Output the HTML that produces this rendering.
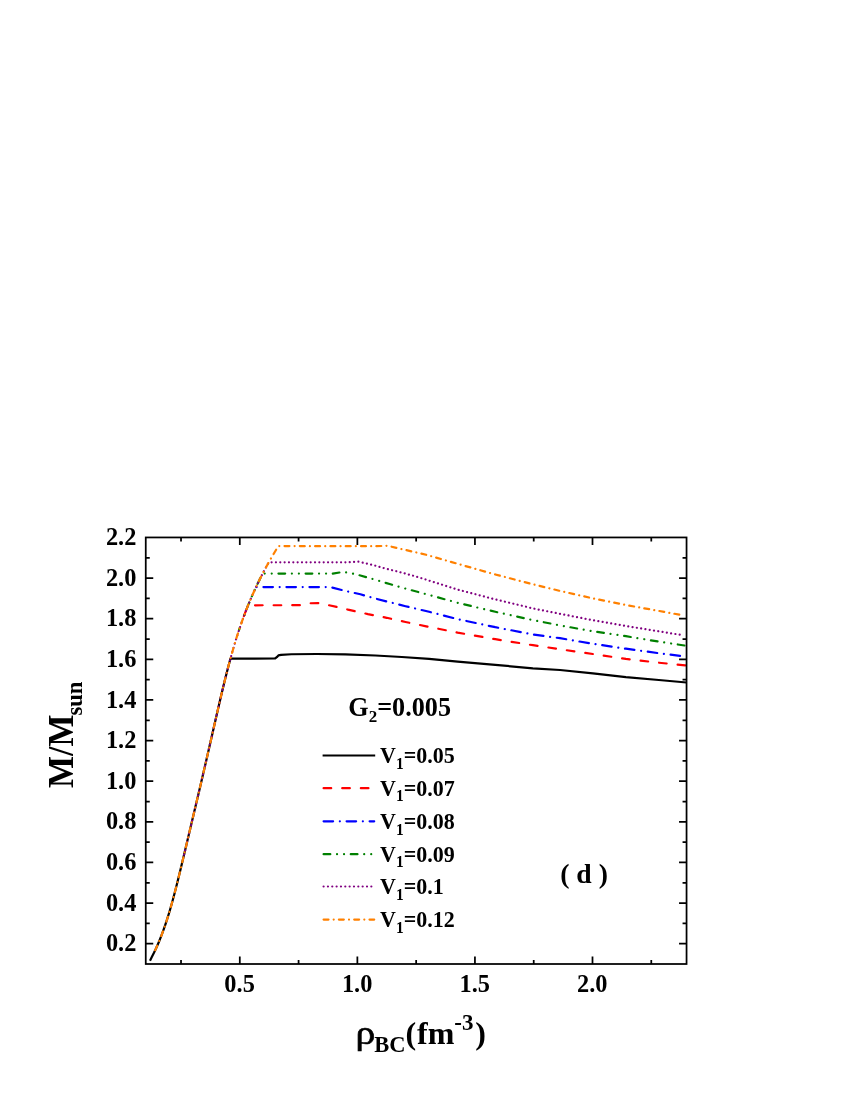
<!DOCTYPE html>
<html><head><meta charset="utf-8"><title>chart</title>
<style>
html,body{margin:0;padding:0;background:#fff;}
body{width:850px;height:1100px;position:relative;overflow:hidden;}
#w{position:absolute;left:0;top:0;width:850px;height:1100px;will-change:transform;}
</style></head><body><div id="w">
<svg width="850" height="1100" viewBox="0 0 850 1100" style="position:absolute;left:0;top:0">
<defs><clipPath id="c"><rect x="145.75" y="537.45" width="540.80" height="426.55"/></clipPath></defs>
<g clip-path="url(#c)" fill="none" stroke-linejoin="round" stroke-linecap="round" stroke-width="2.2">
<path d="M150.00 960.70 L151.93 956.70 L153.97 952.70 L155.88 948.70 L157.68 944.70 L159.38 940.70 L160.99 936.70 L162.52 932.70 L163.96 928.70 L165.35 924.70 L166.67 920.70 L167.94 916.70 L169.16 912.70 L170.33 908.70 L171.47 904.70 L172.58 900.70 L173.66 896.70 L174.71 892.70 L175.75 888.70 L176.76 884.70 L177.76 880.70 L178.75 876.70 L179.73 872.70 L180.70 868.70 L181.66 864.70 L182.62 860.70 L183.58 856.70 L184.53 852.70 L185.48 848.70 L186.42 844.70 L187.37 840.70 L188.32 836.70 L189.27 832.70 L190.21 828.70 L191.16 824.70 L192.11 820.70 L193.06 816.70 L194.00 812.70 L194.95 808.70 L195.90 804.70 L196.84 800.70 L197.79 796.70 L198.73 792.70 L199.68 788.70 L200.62 784.70 L201.55 780.70 L202.49 776.70 L203.42 772.70 L204.35 768.70 L205.28 764.70 L206.21 760.70 L207.13 756.70 L208.05 752.70 L208.97 748.70 L209.88 744.70 L210.80 740.70 L211.71 736.70 L212.62 732.70 L213.53 728.70 L214.44 724.70 L215.35 720.70 L216.26 716.70 L217.18 712.70 L218.10 708.70 L219.02 704.70 L219.95 700.70 L220.88 696.70 L221.83 692.70 L222.78 688.70 L223.75 684.70 L224.73 680.70 L225.72 676.70 L226.73 672.70 L227.76 668.70 L228.81 664.70 L229.88 660.70 L230.46 658.60 L275.00 658.50 L276.80 657.20 L278.40 655.40 L281.00 654.90 L291.40 654.25 L317.00 654.00 L345.30 654.30 L375.40 655.50 L401.80 657.00 L429.10 658.90 L457.60 661.70 L495.30 664.90 L532.90 668.30 L560.00 670.00 L592.90 673.40 L625.90 677.10 L658.80 680.00 L686.50 682.50" stroke="#000000" stroke-linecap="butt"/>
<path d="M243.24 618.00 L243.71 616.70 L245.21 612.70 L246.75 608.70 L248.11 605.30 L301.00 605.20 L309.50 603.30 L318.00 603.10 L327.00 604.80 L336.50 606.90 L349.10 609.90 L367.90 614.10 L386.70 617.80 L405.50 622.00 L426.20 626.30 L457.60 632.60 L495.30 639.20 L532.90 645.20 L565.80 650.10 L592.90 654.00 L625.90 658.90 L658.80 662.70 L686.50 665.50" stroke="#ff0000" stroke-dasharray="7.62 11.00" stroke-dashoffset="16.73"/>
<path d="M254.23 591.00 L255.27 588.70 L256.02 587.10 L330.50 587.10 L345.30 590.90 L360.40 594.30 L375.40 598.60 L390.50 602.40 L405.50 606.20 L429.10 611.80 L457.60 619.10 L495.30 627.20 L532.90 634.40 L560.00 638.20 L592.90 643.80 L625.90 648.70 L658.80 653.20 L681.80 656.02" stroke="#0000ff" stroke-dasharray="9.52 6.73 0.02 6.74" stroke-dashoffset="11.32"/>
<path d="M239.06 630.00 L239.49 628.70 L240.85 624.70 L242.26 620.70 L243.71 616.70 L245.21 612.70 L246.75 608.70 L248.35 604.70 L250.00 600.70 L251.70 596.70 L253.46 592.70 L255.27 588.70 L257.15 584.70 L259.08 580.70 L261.07 576.70 L262.67 573.60 L332.50 573.60 L340.70 572.30 L346.30 572.40 L353.10 573.70 L360.40 575.50 L375.40 579.80 L390.50 584.30 L405.50 588.60 L424.40 593.70 L457.60 602.80 L495.30 611.80 L532.90 620.10 L563.30 626.00 L592.90 631.30 L625.90 636.20 L658.80 641.60 L686.50 645.80" stroke="#008000" stroke-dasharray="6.72 6.70 0.02 7.00 0.02 6.71" stroke-dashoffset="4.53"/>
<path d="M183.51 857.00 L183.58 856.70 L184.53 852.70 L185.48 848.70 L186.42 844.70 L187.37 840.70 L188.32 836.70 L189.27 832.70 L190.21 828.70 L191.16 824.70 L192.11 820.70 L193.06 816.70 L194.00 812.70 L194.95 808.70 L195.90 804.70 L196.84 800.70 L197.79 796.70 L198.73 792.70 L199.68 788.70 L200.62 784.70 L201.55 780.70 L202.49 776.70 L203.42 772.70 L204.35 768.70 L205.28 764.70 L206.21 760.70 L207.13 756.70 L208.05 752.70 L208.97 748.70 L209.88 744.70 L210.80 740.70 L211.71 736.70 L212.62 732.70 L213.53 728.70 L214.44 724.70 L215.35 720.70 L216.26 716.70 L217.18 712.70 L218.10 708.70 L219.02 704.70 L219.95 700.70 L220.88 696.70 L221.83 692.70 L222.78 688.70 L223.75 684.70 L224.73 680.70 L225.72 676.70 L226.73 672.70 L227.76 668.70 L228.81 664.70 L229.88 660.70 L230.98 656.70 L232.10 652.70 L233.25 648.70 L234.43 644.70 L235.64 640.70 L236.89 636.70 L238.17 632.70 L239.49 628.70 L240.85 624.70 L242.26 620.70 L243.71 616.70 L245.21 612.70 L246.75 608.70 L248.35 604.70 L250.00 600.70 L251.70 596.70 L253.46 592.70 L255.27 588.70 L257.15 584.70 L259.08 580.70 L261.07 576.70 L263.13 572.70 L265.25 568.70 L267.42 564.70 L268.74 562.35 L345.00 562.30 L358.50 561.70 L371.60 564.70 L386.70 568.90 L401.80 572.60 L416.80 576.80 L429.10 580.60 L457.60 589.60 L495.30 599.40 L532.90 608.40 L560.00 613.80 L592.90 620.20 L625.90 626.00 L658.80 631.30 L681.80 635.04" stroke="#800080" stroke-dasharray="0.02 4.32" stroke-dashoffset="1.87"/>
<path d="M154.73 951.10 L155.88 948.70 L157.68 944.70 L159.38 940.70 L160.99 936.70 L162.52 932.70 L163.96 928.70 L165.35 924.70 L166.67 920.70 L167.94 916.70 L169.16 912.70 L170.33 908.70 L171.47 904.70 L172.58 900.70 L173.66 896.70 L174.71 892.70 L175.75 888.70 L176.76 884.70 L177.76 880.70 L178.75 876.70 L179.73 872.70 L180.70 868.70 L181.66 864.70 L182.62 860.70 L183.58 856.70 L184.53 852.70 L185.48 848.70 L186.42 844.70 L187.37 840.70 L188.32 836.70 L189.27 832.70 L190.21 828.70 L191.16 824.70 L192.11 820.70 L193.06 816.70 L194.00 812.70 L194.95 808.70 L195.90 804.70 L196.84 800.70 L197.79 796.70 L198.73 792.70 L199.68 788.70 L200.62 784.70 L201.55 780.70 L202.49 776.70 L203.42 772.70 L204.35 768.70 L205.28 764.70 L206.21 760.70 L207.13 756.70 L208.05 752.70 L208.97 748.70 L209.88 744.70 L210.80 740.70 L211.71 736.70 L212.62 732.70 L213.53 728.70 L214.44 724.70 L215.35 720.70 L216.26 716.70 L217.18 712.70 L218.10 708.70 L219.02 704.70 L219.95 700.70 L220.88 696.70 L221.83 692.70 L222.78 688.70 L223.75 684.70 L224.73 680.70 L225.72 676.70 L226.73 672.70 L227.76 668.70 L228.81 664.70 L229.88 660.70 L230.98 656.70 L232.10 652.70 L233.25 648.70 L234.43 644.70 L235.64 640.70 L236.89 636.70 L238.17 632.70 L239.49 628.70 L240.85 624.70 L242.26 620.70 L243.71 616.70 L245.21 612.70 L246.75 608.70 L248.35 604.70 L250.00 600.70 L251.70 596.70 L253.46 592.70 L255.27 588.70 L257.15 584.70 L259.08 580.70 L261.07 576.70 L263.13 572.70 L265.25 568.70 L267.42 564.70 L269.67 560.70 L271.97 556.70 L274.34 552.70 L276.76 548.70 L278.50 546.10" stroke="#ff8000" stroke-dasharray="4.95 5.19 0.03 5.20" stroke-dashoffset="14.38"/>
<path d="M278.50 546.10 L375.00 546.20 L387.70 545.80 L401.80 549.10 L426.20 554.80 L457.60 563.80 L495.30 574.50 L532.90 584.30 L560.00 590.90 L592.90 598.40 L625.90 605.00 L658.80 610.90 L682.60 615.28" stroke="#ff8000" stroke-dasharray="4.92 5.18 0.02 5.19" stroke-dashoffset="9.31"/>
</g>
<g stroke="#000" stroke-width="1.75" fill="none">
<rect x="145.75" y="537.45" width="540.80" height="426.55"/>
<path d="M181.02 964.00 v-4.0 M181.02 537.45 v4.0 M239.80 964.00 v-7.5 M239.80 537.45 v7.5 M298.58 964.00 v-4.0 M298.58 537.45 v4.0 M357.37 964.00 v-7.5 M357.37 537.45 v7.5 M416.15 964.00 v-4.0 M416.15 537.45 v4.0 M474.93 964.00 v-7.5 M474.93 537.45 v7.5 M533.72 964.00 v-4.0 M533.72 537.45 v4.0 M592.50 964.00 v-7.5 M592.50 537.45 v7.5 M651.28 964.00 v-4.0 M651.28 537.45 v4.0 M145.75 943.69 h7.5 M686.55 943.69 h-7.5 M145.75 923.38 h4.0 M686.55 923.38 h-4.0 M145.75 903.06 h7.5 M686.55 903.06 h-7.5 M145.75 882.75 h4.0 M686.55 882.75 h-4.0 M145.75 862.44 h7.5 M686.55 862.44 h-7.5 M145.75 842.13 h4.0 M686.55 842.13 h-4.0 M145.75 821.82 h7.5 M686.55 821.82 h-7.5 M145.75 801.50 h4.0 M686.55 801.50 h-4.0 M145.75 781.19 h7.5 M686.55 781.19 h-7.5 M145.75 760.88 h4.0 M686.55 760.88 h-4.0 M145.75 740.57 h7.5 M686.55 740.57 h-7.5 M145.75 720.26 h4.0 M686.55 720.26 h-4.0 M145.75 699.95 h7.5 M686.55 699.95 h-7.5 M145.75 679.63 h4.0 M686.55 679.63 h-4.0 M145.75 659.32 h7.5 M686.55 659.32 h-7.5 M145.75 639.01 h4.0 M686.55 639.01 h-4.0 M145.75 618.70 h7.5 M686.55 618.70 h-7.5 M145.75 598.39 h4.0 M686.55 598.39 h-4.0 M145.75 578.07 h7.5 M686.55 578.07 h-7.5 M145.75 557.76 h4.0 M686.55 557.76 h-4.0"/>
</g>
<g fill="none" stroke-width="2.2" stroke-linecap="round">
<path d="M322.6 755.5 H375.2" stroke="#000000" stroke-linecap="butt"/>
<path d="M323.59 788.2 H374.21" stroke="#ff0000" stroke-dasharray="7.62 11.00"/>
<path d="M323.59 821.3 H374.21" stroke="#0000ff" stroke-dasharray="9.52 6.73 0.02 6.74"/>
<path d="M323.59 854.2 H374.21" stroke="#008000" stroke-dasharray="6.72 6.70 0.02 7.00 0.02 6.71"/>
<path d="M323.59 886.5 H374.21" stroke="#800080" stroke-dasharray="0.02 4.32"/>
<path d="M323.59 919.6 H374.21" stroke="#ff8000" stroke-dasharray="4.92 5.18 0.02 5.19"/>
</g>
<g font-family="Liberation Serif, serif" font-weight="bold" fill="#000">
<text transform="translate(136.40,951.29) scale(1,1.015)" font-size="24.4" text-anchor="end">0.2</text>
<text transform="translate(136.40,910.66) scale(1,1.015)" font-size="24.4" text-anchor="end">0.4</text>
<text transform="translate(136.40,870.04) scale(1,1.015)" font-size="24.4" text-anchor="end">0.6</text>
<text transform="translate(136.40,829.42) scale(1,1.015)" font-size="24.4" text-anchor="end">0.8</text>
<text transform="translate(136.40,788.79) scale(1,1.015)" font-size="24.4" text-anchor="end">1.0</text>
<text transform="translate(136.40,748.17) scale(1,1.015)" font-size="24.4" text-anchor="end">1.2</text>
<text transform="translate(136.40,707.55) scale(1,1.015)" font-size="24.4" text-anchor="end">1.4</text>
<text transform="translate(136.40,666.92) scale(1,1.015)" font-size="24.4" text-anchor="end">1.6</text>
<text transform="translate(136.40,626.30) scale(1,1.015)" font-size="24.4" text-anchor="end">1.8</text>
<text transform="translate(136.40,585.67) scale(1,1.015)" font-size="24.4" text-anchor="end">2.0</text>
<text transform="translate(136.40,545.05) scale(1,1.015)" font-size="24.4" text-anchor="end">2.2</text>
<text transform="translate(239.60,992.00) scale(1,1.015)" font-size="24.4" text-anchor="middle">0.5</text>
<text transform="translate(357.17,992.00) scale(1,1.015)" font-size="24.4" text-anchor="middle">1.0</text>
<text transform="translate(474.73,992.00) scale(1,1.015)" font-size="24.4" text-anchor="middle">1.5</text>
<text transform="translate(592.30,992.00) scale(1,1.015)" font-size="24.4" text-anchor="middle">2.0</text>
<text transform="translate(380.00,763.15) scale(1,1.030)" font-size="22" text-anchor="start">V<tspan font-size="15.5" dy="5.4">1</tspan><tspan dy="-5.4">=0.05</tspan></text>
<text transform="translate(380.00,795.90) scale(1,1.030)" font-size="22" text-anchor="start">V<tspan font-size="15.5" dy="5.4">1</tspan><tspan dy="-5.4">=0.07</tspan></text>
<text transform="translate(380.00,829.00) scale(1,1.030)" font-size="22" text-anchor="start">V<tspan font-size="15.5" dy="5.4">1</tspan><tspan dy="-5.4">=0.08</tspan></text>
<text transform="translate(380.00,861.90) scale(1,1.030)" font-size="22" text-anchor="start">V<tspan font-size="15.5" dy="5.4">1</tspan><tspan dy="-5.4">=0.09</tspan></text>
<text transform="translate(380.00,894.20) scale(1,1.030)" font-size="22" text-anchor="start">V<tspan font-size="15.5" dy="5.4">1</tspan><tspan dy="-5.4">=0.1</tspan></text>
<text transform="translate(380.00,927.30) scale(1,1.030)" font-size="22" text-anchor="start">V<tspan font-size="15.5" dy="5.4">1</tspan><tspan dy="-5.4">=0.12</tspan></text>
<text transform="translate(348.30,715.60) scale(1,1.005)" font-size="26.2" text-anchor="start">G<tspan font-size="17" dy="6.4">2</tspan><tspan dy="-6.4">=0.005</tspan></text>
<text transform="translate(560.20,882.70) scale(1,1.000)" font-size="27.7" text-anchor="start">( d )</text>
<text transform="translate(355.6,1043.6) scale(1.2,1)" font-size="33" font-weight="normal" stroke="#000" stroke-width="0.6">&#961;</text>
<text transform="translate(374.30,1043.50) scale(1,1.000)" font-size="32" text-anchor="start"><tspan font-size="22.5" dy="8.4">BC</tspan><tspan dy="-8.4">(</tspan><tspan dx="0.8">fm</tspan><tspan font-size="23" dy="-13.5">-3</tspan><tspan dy="13.5" dx="1.7">)</tspan></text>
<text transform="translate(73.0,788.0) rotate(-90) scale(1,1.057)" font-size="34">M/M<tspan font-size="22.6" dy="8.6" dx="-1.2">sun</tspan></text>
</g>
</svg>
</div></body></html>
